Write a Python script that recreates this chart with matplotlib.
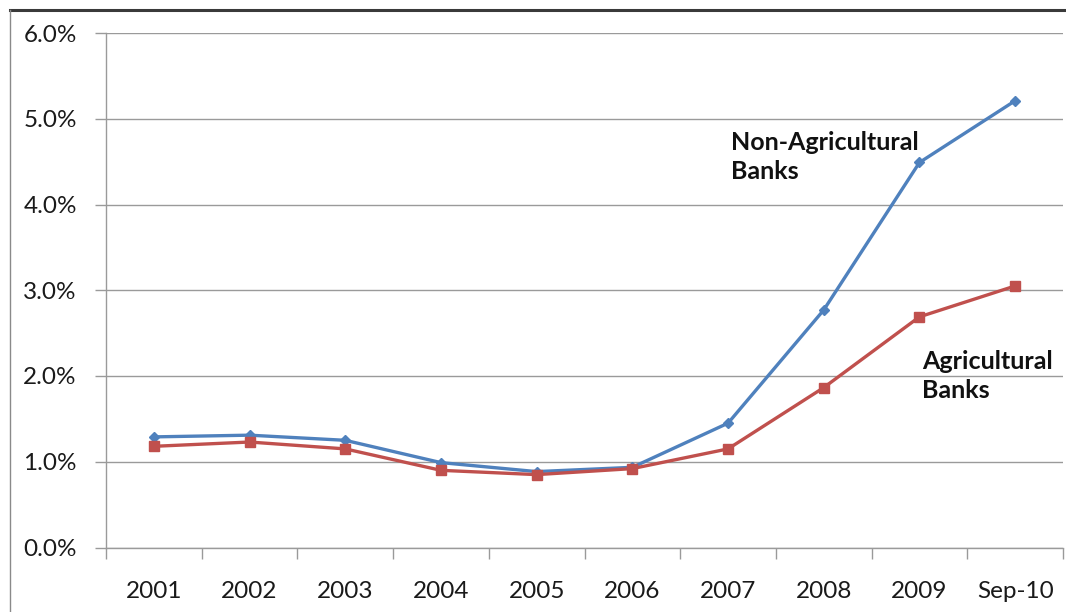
import matplotlib
matplotlib.use("Agg")
import matplotlib.pyplot as plt
from matplotlib.lines import Line2D
from matplotlib.ticker import FixedLocator, FuncFormatter

# Delinquency rates by bank type
periods = ["2001", "2002", "2003", "2004", "2005", "2006", "2007", "2008", "2009", "Sep-10"]
non_ag_banks = [1.29, 1.31, 1.25, 0.99, 0.885, 0.935, 1.45, 2.77, 4.49, 5.21]
ag_banks = [1.18, 1.23, 1.15, 0.90, 0.85, 0.92, 1.15, 1.865, 2.69, 3.05]
y_ticks = [0, 1, 2, 3, 4, 5, 6]

plt.rcParams["font.family"] = ["Lato", "DejaVu Sans"]

fig = plt.figure(figsize=(10.66, 6.12), dpi=100)
ax = fig.add_axes([106 / 1066, 1 - 547.5 / 612, (1063 - 106) / 1066, (547.5 - 33) / 612])

blue = "#4F81BD"
red = "#C0504D"
grid_c = "#9a9a9a"

x = list(range(len(periods)))
ax.plot(x, non_ag_banks, color=blue, lw=2.4, marker="D", ms=5.5, mfc=blue, mec=blue, zorder=3)
ax.plot(x, ag_banks, color=red, lw=2.4, marker="s", ms=7, mfc=red, mec=red, zorder=3)

ax.set_xlim(-0.5, len(periods) - 0.5)
ax.set_ylim(0, 6)

ax.set_yticks(y_ticks)
ax.yaxis.set_major_formatter(FuncFormatter(lambda v, p: f"{v:.1f}%"))
ax.yaxis.grid(True, color=grid_c, lw=1)
ax.set_axisbelow(True)

ax.set_xticks(x)
ax.set_xticklabels(periods)
ax.xaxis.set_minor_locator(FixedLocator([i - 0.5 for i in range(len(periods) + 1)]))
ax.tick_params(axis="x", which="major", length=0, pad=24, labelsize=17.5, labelcolor="#1a1a1a")
ax.tick_params(axis="x", which="minor", length=8, width=1, color=grid_c, direction="out")
ax.tick_params(axis="y", which="major", length=8, width=1, color=grid_c, pad=13,
               labelsize=17.5, labelcolor="#1a1a1a")

for side in ("top", "right"):
    ax.spines[side].set_visible(False)
for side in ("left", "bottom"):
    ax.spines[side].set_color(grid_c)
    ax.spines[side].set_linewidth(1)

ax.text(6.03, 4.86, "Non-Agricultural\nBanks", fontsize=18, fontweight="bold",
        color="#111111", ha="left", va="top", linespacing=1.32)
ax.text(8.03, 2.30, "Agricultural\nBanks", fontsize=18, fontweight="bold",
        color="#111111", ha="left", va="top", linespacing=1.32)

# outer chart frame
fig.add_artist(Line2D([10 / 1066, 1], [1 - 10 / 612, 1 - 10 / 612], transform=fig.transFigure,
                      color="#3a3a3a", lw=2.2))
fig.add_artist(Line2D([10 / 1066, 10 / 1066], [0, 1 - 10 / 612], transform=fig.transFigure,
                      color="#8a8a8a", lw=1))

fig.savefig("out.png", dpi=100)
